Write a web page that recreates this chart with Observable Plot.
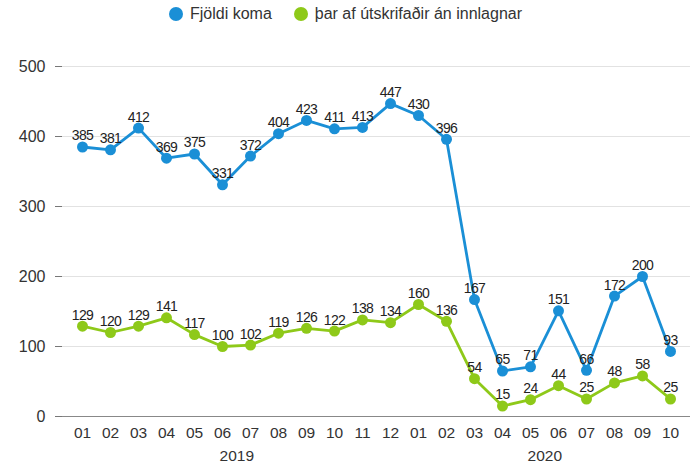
<!DOCTYPE html>
<html>
<head>
<meta charset="utf-8">
<script src="https://cdn.jsdelivr.net/npm/d3@7"></script>
<script src="https://cdn.jsdelivr.net/npm/@observablehq/plot@0.6"></script>
<style>
  html, body { margin: 0; overflow: hidden; background: #fff; font-family: "Liberation Sans", Arial, sans-serif; }
  #legend { height: 28px; display: flex; justify-content: center; align-items: center; gap: 22px; font-size: 16px; color: #333; padding-right: 6px; box-sizing: border-box; }
  #legend span.item { display: flex; align-items: center; gap: 7px; }
  #legend span.dot { width: 14px; height: 14px; border-radius: 50%; display: inline-block; }
  #chart svg { display: block; }
  #chart .value-label text { letter-spacing: -0.6px; }
</style>
</head>
<body>
<div id="legend"></div>
<div id="chart"></div>
<script>
// Monthly figures, Jan 2019 – Oct 2020
const months = [
  "2019-01","2019-02","2019-03","2019-04","2019-05","2019-06","2019-07","2019-08","2019-09","2019-10","2019-11","2019-12",
  "2020-01","2020-02","2020-03","2020-04","2020-05","2020-06","2020-07","2020-08","2020-09","2020-10"
];
const komur = [385,381,412,369,375,331,372,404,423,411,413,447,430,396,167,65,71,151,66,172,200,93];
const utskrifadir = [129,120,129,141,117,100,102,119,126,122,138,134,160,136,54,15,24,44,25,48,58,25];
const seriesNames = ["Fjöldi koma", "þar af útskrifaðir án innlagnar"];
const seriesColors = ["#1a8fd6", "#8ec919"];
const yTicks = [0, 100, 200, 300, 400, 500];
// year labels sit between the middle months of each year
const years = [{year: "2019", at: "2019-06"}, {year: "2020", at: "2020-05"}];

const rows = [
  ...months.map((m, i) => ({month: m, value: komur[i], series: seriesNames[0]})),
  ...months.map((m, i) => ({month: m, value: utskrifadir[i], series: seriesNames[1]}))
];

const legend = document.getElementById("legend");
seriesNames.forEach((name, i) => {
  const item = document.createElement("span");
  item.className = "item";
  item.innerHTML = `<span class="dot" style="background:${seriesColors[i]}"></span>${name}`;
  legend.appendChild(item);
});

const chart = Plot.plot({
  width: 697,
  height: 438,
  marginLeft: 62,
  marginRight: 7,
  marginTop: 38,
  marginBottom: 50,
  style: {fontFamily: "'Liberation Sans', Arial, sans-serif", fontSize: "15px", color: "#333", background: "#fff"},
  x: {type: "point", domain: months, padding: 0.5, label: null},
  y: {domain: [0, 500], label: null},
  color: {domain: seriesNames, range: seriesColors},
  marks: [
    Plot.gridY(yTicks.filter(d => d > 0), {stroke: "#e2e2e2", strokeOpacity: 1, strokeWidth: 1}),
    Plot.axisY(yTicks, {tickSize: 7, tickPadding: 10, stroke: "#777", fontSize: 16, fill: "#333"}),
    Plot.axisX({tickSize: 0, tickPadding: 10, tickFormat: d => d.slice(5), fontSize: 15.5, fill: "#333"}),
    Plot.text(years, {x: "at", text: "year", frameAnchor: "bottom", dx: 14.3, dy: 33, fontSize: 15.5, fill: "#333", lineAnchor: "top"}),
    Plot.ruleY([0], {stroke: "#888", strokeWidth: 1.2}),
    Plot.line(rows, {x: "month", y: "value", stroke: "series", strokeWidth: 2.8, z: "series"}),
    Plot.dot(rows, {x: "month", y: "value", fill: "series", r: 5.5}),
    Plot.text(rows, {x: "month", y: "value", text: "value", dy: -11, fontSize: 14, fill: "#222", className: "value-label"})
  ]
});
document.getElementById("chart").appendChild(chart);
</script>
</body>
</html>
